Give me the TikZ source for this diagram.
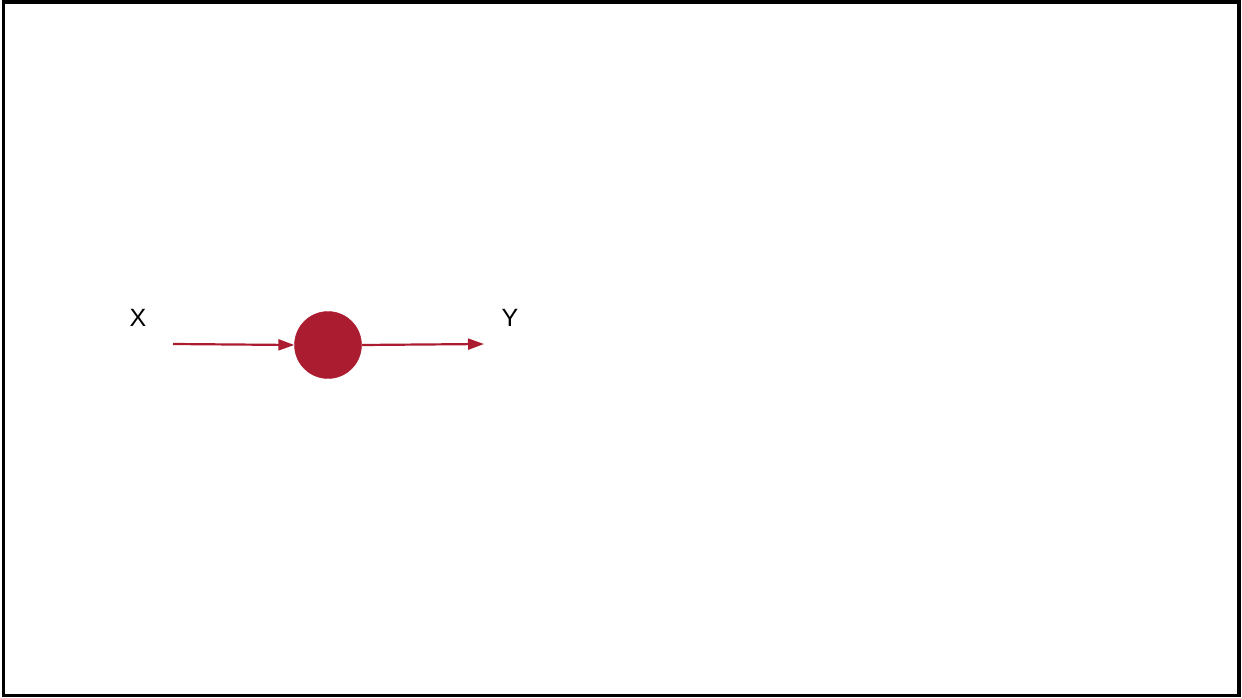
\documentclass[tikz,border=0pt]{standalone}
\usepackage{fontspec}
\setmainfont{Liberation Sans}
\usetikzlibrary{arrows.meta}
\definecolor{wine}{HTML}{AB1C30}
\begin{document}
\begin{tikzpicture}[x=1pt,y=-1pt,
  conn/.style={draw=wine,line width=2.2pt,-{Triangle[length=16pt,width=11pt]}},
  lbl/.style={font=\fontsize{25pt}{30pt}\selectfont,text=black,inner sep=0pt}]
\useasboundingbox (0,0) rectangle (1242,698);
\draw[line width=3.5pt] (3.5,2) rectangle (1239,695.5);
\node[circle,fill=wine,draw=wine,minimum size=67pt,inner sep=0pt] (c) at (328,345) {};
\coordinate (s) at (173,344);
\coordinate (e) at (484,344);
\draw[conn] (s) -- (c.west);
\draw[conn] (c.east) -- (e);
\node[lbl] (x) at (138,317.5) {X};
\node[lbl] (y) at (510,317.5) {Y};
\end{tikzpicture}
\end{document}
